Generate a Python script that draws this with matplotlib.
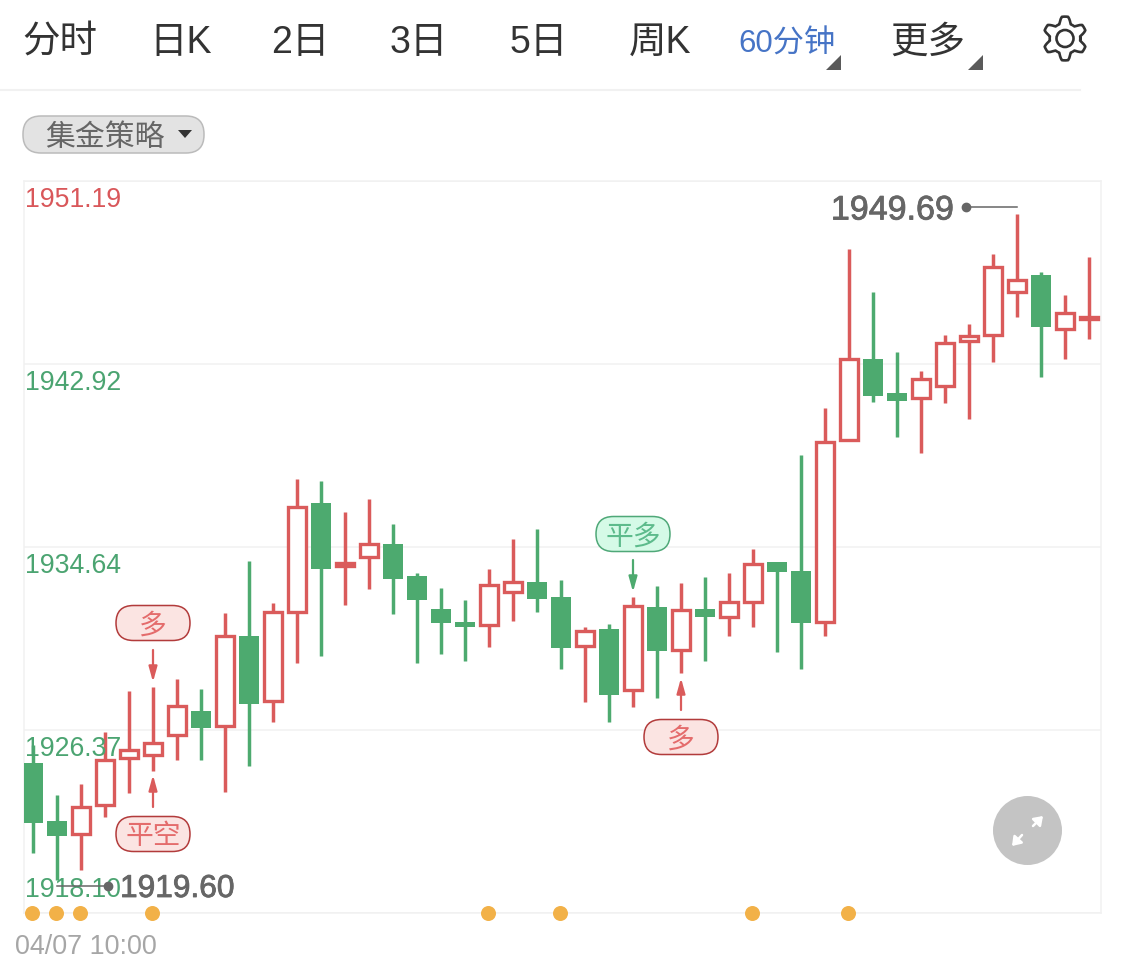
#!/usr/bin/env python3
import numpy as np
import matplotlib
matplotlib.use("Agg")
import matplotlib.pyplot as plt
import matplotlib.patheffects as pe
from matplotlib.patches import FancyBboxPatch, Polygon, Circle

plt.rcParams['font.family'] = ['Liberation Sans', 'Noto Sans CJK SC', 'DejaVu Sans']

RED = '#DA5B5B'
GREEN = '#4DAA6F'
GRID = '#F1F1F1'

# 60 minute candles
opens = [1924.88, 1922.26, 1921.69, 1923.00, 1925.12, 1925.26, 1926.16, 1927.23, 1926.57,
         1930.62, 1927.70, 1931.72, 1936.63, 1933.80, 1934.21, 1934.78, 1933.33, 1931.84,
         1931.25, 1931.13, 1932.63, 1933.06, 1932.38, 1930.18, 1930.94, 1928.20, 1931.93,
         1930.00, 1931.84, 1931.50, 1932.17, 1933.97, 1933.56, 1931.27, 1939.50, 1943.14,
         1941.61, 1941.40, 1941.94, 1943.97, 1944.24, 1946.19, 1946.94, 1944.51, 1944.97]
closes = [1922.17, 1921.58, 1922.88, 1925.00, 1925.45, 1925.77, 1927.44, 1926.46, 1930.61,
          1927.55, 1931.69, 1936.44, 1933.65, 1933.91, 1934.77, 1933.20, 1932.25, 1931.21,
          1931.03, 1932.91, 1933.05, 1932.29, 1930.08, 1930.83, 1927.95, 1931.96, 1929.94,
          1931.78, 1931.48, 1932.14, 1933.86, 1933.51, 1931.21, 1939.38, 1943.13, 1941.47,
          1941.24, 1942.22, 1943.85, 1944.17, 1947.29, 1946.70, 1944.59, 1945.21, 1945.03]
highs = [1925.69, 1923.43, 1923.93, 1926.28, 1928.14, 1928.32, 1928.68, 1928.23, 1931.66,
         1934.01, 1932.11, 1937.72, 1937.63, 1936.23, 1936.81, 1935.68, 1933.47, 1932.79,
         1932.25, 1933.65, 1935.01, 1935.46, 1933.15, 1931.03, 1931.16, 1932.38, 1932.88,
         1933.02, 1933.29, 1933.47, 1934.55, 1933.97, 1938.80, 1940.93, 1948.12, 1946.17,
         1943.46, 1942.60, 1944.23, 1944.73, 1947.89, 1949.69, 1947.08, 1946.04, 1947.75]
lows = [1920.81, 1919.60, 1920.04, 1922.44, 1923.52, 1924.52, 1925.02, 1925.02, 1923.57,
        1924.74, 1926.73, 1929.40, 1929.72, 1932.02, 1932.75, 1931.62, 1929.40, 1929.81,
        1929.49, 1930.12, 1931.30, 1931.71, 1929.13, 1927.64, 1926.73, 1927.41, 1927.82,
        1928.95, 1929.49, 1930.62, 1931.03, 1929.90, 1929.13, 1930.62, 1939.44, 1941.20,
        1939.62, 1938.89, 1941.15, 1940.43, 1943.01, 1945.04, 1942.33, 1943.14, 1944.05]

price_ticks = [1951.19, 1942.92, 1934.64, 1926.37, 1918.10]
price_labels = ['1951.19', '1942.92', '1934.64', '1926.37', '1918.10']
label_colors = ['#D9575A', '#4BA471', '#4BA471', '#4BA471', '#4BA471']
event_candles = [0, 1, 2, 5, 19, 22, 30, 34]
high_label = '1949.69'
low_label = '1919.60'
date_label = '04/07 10:00'
tabs = ['分时', '日K', '2日', '3日', '5日', '周K', '更多']
tab_x = [60, 181, 300, 419, 539, 660, 928]


def draw_candles(ax):
    o = np.array(opens)
    c = np.array(closes)
    x = np.arange(len(o))
    up = c >= o
    body_top = np.maximum(o, c)
    body_bot = np.minimum(o, c)
    # wicks first, white bodies cover them
    ax.vlines(x[up], lows_arr[up], highs_arr[up], color=RED, lw=2.5, zorder=3)
    ax.vlines(x[~up], lows_arr[~up], highs_arr[~up], color=GREEN, lw=2.5, zorder=3)
    ax.bar(x[up], (body_top - body_bot)[up], bottom=body_bot[up], width=17.5 / 24,
           facecolor='white', edgecolor=RED, lw=2.4, zorder=4)
    ax.bar(x[~up], (body_top - body_bot)[~up], bottom=body_bot[~up], width=20.5 / 24,
           color=GREEN, lw=0, zorder=4)


def pill(ui, cx, cy, w, h, text, fill, edge, color, size=20):
    ui.add_patch(FancyBboxPatch((cx - w / 2, cy - h / 2), w, h, boxstyle=f'round,pad=0,rounding_size={h / 2}',
                                facecolor=fill, edgecolor=edge, lw=1.1, zorder=6))
    ui.text(cx, cy + 3.5, text, ha='center', va='center', color=color, fontsize=size, zorder=7)


def arrow(ui, x, y0, y1, color):
    # stem plus small head, tip at y1
    ui.annotate('', xy=(x, y1), xytext=(x, y0), zorder=6,
                arrowprops=dict(arrowstyle='-|>,head_width=0.25,head_length=0.9', color=color, lw=1.6,
                                shrinkA=0, shrinkB=0, mutation_scale=10))


def draw_gear(ui, cx, cy):
    t = np.linspace(0, 2 * np.pi, 721)
    wave = np.clip(1.5 * np.cos(6 * (t - np.pi / 2)), -1, 1)
    r = 18.6 + 3.3 * wave
    ui.plot(cx + r * np.cos(t), cy + r * np.sin(t), color='#333333', lw=1.9, zorder=6)
    ui.add_patch(Circle((cx, cy), 8.5, fill=False, edgecolor='#333333', lw=1.9, zorder=6))


def draw_ui(ui):
    for name, x in zip(tabs, tab_x):
        ui.text(x, 43, name, ha='center', va='center', color='#333333', fontsize=27)
    ui.text(787, 45, '60分钟', ha='center', va='center', color='#4674C6', fontsize=22.5)
    for x in [826, 968]:
        ui.add_patch(Polygon([[x, 70], [x + 15, 70], [x + 15, 55]], color='#5A5A5A', lw=0))
    draw_gear(ui, 1065, 38.5)
    ui.plot([0, 1080], [90, 90], color=GRID, lw=1.5)

    ui.add_patch(FancyBboxPatch((23, 116), 181, 37, boxstyle='round,pad=0,rounding_size=18',
                                facecolor='#E3E3E3', edgecolor='#BBBBBB', lw=1.1))
    ui.text(105, 138, '集金策略', ha='center', va='center', color='#666666', fontsize=21.5)
    ui.add_patch(Polygon([[178, 130], [192, 130], [185, 138]], color='#333333', lw=0))

    label_y = [200, 383, 566, 749, 890]
    for text, y, color in zip(price_labels, label_y, label_colors):
        ui.text(25, y, text, ha='left', va='center', color=color, fontsize=19.2, zorder=8)

    # max / min callouts
    stroke = [pe.withStroke(linewidth=0.6, foreground='#666666')]
    ui.plot([966, 1017], [207, 207], color='#666666', lw=1.1, zorder=7)
    ui.plot([966], [207], 'o', color='#666666', ms=6, zorder=7)
    ui.text(954, 211, high_label, ha='right', va='center', color='#666666', fontsize=24.5, path_effects=stroke, zorder=8)
    ui.plot([57, 108], [886, 886], color='#666666', lw=1.1, zorder=8)
    ui.plot([108], [886], 'o', color='#666666', ms=6, zorder=8)
    ui.text(120, 889, low_label, ha='left', va='center', color='#666666', fontsize=22.8, path_effects=stroke, zorder=8)

    pill(ui, 153, 623, 74, 35, '多', '#FBE4E2', '#B23B3B', '#E46C6C')
    pill(ui, 153, 834, 74, 35, '平空', '#FBE4E2', '#B23B3B', '#E46C6C')
    pill(ui, 681, 737, 74, 35, '多', '#FBE4E2', '#B23B3B', '#E46C6C')
    pill(ui, 633, 534, 74, 35, '平多', '#D5FAE7', '#4FA878', '#5DBB8C')
    arrow(ui, 153, 650, 682, RED)
    arrow(ui, 153, 807, 775, RED)
    arrow(ui, 681, 710, 678, RED)
    arrow(ui, 633, 560, 592, GREEN)

    ui.text(15, 947, date_label, ha='left', va='center', color='#A6A6A6', fontsize=19.4)

    # expand button
    ui.add_patch(Circle((1027.5, 830.5), 34.5, color='#C4C4C4', lw=0, zorder=6))
    for a, b in [((1033, 826), (1043, 816)), ((1022, 835), (1012, 846))]:
        ui.annotate('', xy=b, xytext=a, zorder=7,
                    arrowprops=dict(arrowstyle='-|>,head_width=0.35,head_length=0.5', color='white', lw=1.8,
                                    shrinkA=0, shrinkB=0, mutation_scale=10))


highs_arr = np.array(highs)
lows_arr = np.array(lows)

W, H = 1125, 967
fig = plt.figure(figsize=(W / 100, H / 100), dpi=100, facecolor='white')

ax = fig.add_axes([24 / W, 1 - 913 / H, (1101 - 24) / W, (913 - 181) / H])
ax.set_xlim((24 - 33) / 24, (1101 - 33) / 24)
ax.set_ylim(price_ticks[-1], price_ticks[0])
ax.set_yticks(price_ticks)
ax.set_xticks([])
ax.tick_params(left=False, labelleft=False)
ax.grid(axis='y', color=GRID, lw=1.1, zorder=0)
ax.set_axisbelow(True)
for side in ax.spines.values():
    side.set_color(GRID)
    side.set_linewidth(1.1)

draw_candles(ax)
ax.plot(np.array(event_candles) - 0.04, [price_ticks[-1]] * len(event_candles), 'o', color='#F2B148', ms=10.8,
        mew=0, clip_on=False, zorder=5)

ui = fig.add_axes([0, 0, 1, 1])
ui.set_xlim(0, W)
ui.set_ylim(H, 0)
ui.axis('off')
ui.patch.set_alpha(0)
draw_ui(ui)

fig.savefig('out.png', dpi=100)
